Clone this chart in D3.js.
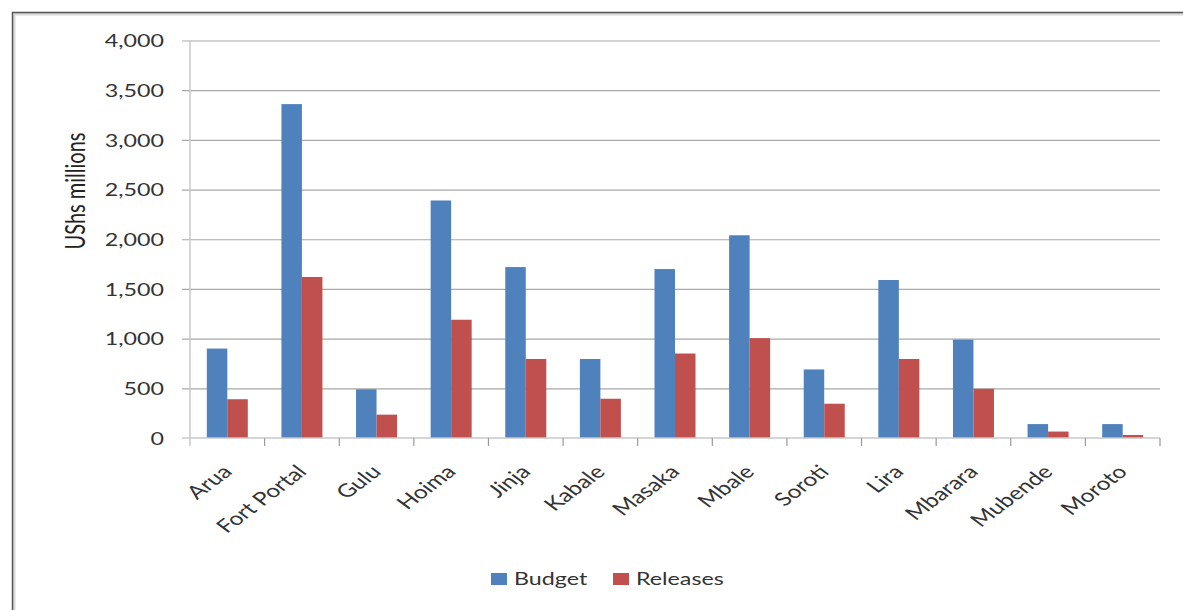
<!DOCTYPE html>
<html><head><meta charset="utf-8">
<script src="https://cdn.jsdelivr.net/npm/d3@7"></script>
<style>body{margin:0;background:#fff} svg{display:block}</style>
</head><body><svg id="c" width="1183" height="610"></svg>
<script>
const categories = ["Arua","Fort Portal","Gulu","Hoima","Jinja","Kabale","Masaka","Mbale","Soroti","Lira","Mbarara","Mubende","Moroto"];
const seriesNames = ["Budget","Releases"];
const budget = [900,3360,490,2390,1720,795,1700,2040,690,1590,990,140,140];
const releases = [390,1620,235,1190,795,395,850,1005,345,795,495,65,30];
const yTicks = [0,500,1000,1500,2000,2500,3000,3500,4000];
const yTitle = "UShs millions";
const colors = {Budget:"#4F81BD", Releases:"#C0504D"};

const SX = 1.33; // horizontal stretch of the reference
const FONT = "Lato, 'DejaVu Sans', sans-serif";
const svg = d3.select("#c");
const L = 190, R = 1160, T = 40.5, B = 438;

// frame
svg.append("path").attr("d","M12.5,610 V12.5 H1183").attr("fill","none")
  .attr("stroke","#d8d8d8").attr("stroke-width",3).attr("transform","translate(1.5,1.5)");
svg.append("path").attr("d","M12.5,610 V12.5 H1183").attr("fill","none")
  .attr("stroke","#555").attr("stroke-width",1.5);

const x = d3.scaleBand().domain(categories).range([L,R]).padding(0);
const x1 = d3.scaleBand().domain(seriesNames).range([0,x.bandwidth()]).paddingInner(0).paddingOuter(0.82);
const y = d3.scaleLinear().domain([0,4000]).range([B,T]);

// gridlines + y axis
const ya = svg.append("g").attr("transform",`translate(${L},0)`)
  .call(d3.axisLeft(y).tickValues(yTicks).tickSizeInner(-(R-L)).tickSizeOuter(0).tickFormat(d3.format(",")));
ya.select(".domain").remove();
ya.selectAll(".tick line").attr("x1",-8).attr("stroke",(d)=> d===0 ? "none" : "#a8a8a8").attr("stroke-width",1.2);
ya.selectAll(".tick text").each(function(){
  const t = d3.select(this);
  t.attr("x",null).attr("dy",null)
   .attr("transform",`translate(-26,0) scale(${SX},1)`)
   .attr("dy","0.35em").attr("text-anchor","end")
   .style("font-family",FONT).style("font-size","17.5px").attr("fill","#333");
});
ya.attr("font-family",null).attr("font-size",null);

// bars
const data = categories.map((c,i)=>({c, vals:[{k:"Budget",v:budget[i]},{k:"Releases",v:releases[i]}]}));
const g = svg.append("g");
g.selectAll("g").data(data).join("g").attr("transform",d=>`translate(${x(d.c)},0)`)
 .selectAll("rect").data(d=>d.vals).join("rect")
 .attr("x",d=>x1(d.k)).attr("width",x1.bandwidth())
 .attr("y",d=>y(d.v)).attr("height",d=>B-y(d.v))
 .attr("fill",d=>colors[d.k]);

// axis lines
svg.append("line").attr("x1",L).attr("x2",L).attr("y1",T).attr("y2",B+8).attr("stroke","#c8c8c8").attr("stroke-width",1.5);
svg.append("line").attr("x1",L-8).attr("x2",R).attr("y1",B).attr("y2",B).attr("stroke","#c8c8c8").attr("stroke-width",1.5);
// x ticks at category boundaries
const bounds = categories.map(c=>x(c)).concat([x.range()[1]]);
svg.append("g").selectAll("line").data(bounds.slice(1)).join("line")
  .attr("x1",d=>d).attr("x2",d=>d).attr("y1",B).attr("y2",B+8).attr("stroke","#999").attr("stroke-width",1.2);

// x labels
svg.append("g").selectAll("text").data(categories).join("text")
  .attr("transform",d=>`translate(${x(d)+x.bandwidth()/2+6},${B+35}) scale(${SX},1) rotate(-45)`)
  .attr("text-anchor","end").style("font-family",FONT).style("font-size","18.5px").attr("fill","#333")
  .text(d=>d);

// y title
svg.append("text").attr("transform",`translate(85,191) scale(${SX},1) rotate(-90)`)
  .attr("text-anchor","middle").style("font-family",FONT).style("font-size","20px").attr("fill","#222")
  .text(yTitle);

// legend
const legX = [491, 613];
const lg = svg.append("g");
seriesNames.forEach((s,i)=>{
  lg.append("rect").attr("x",legX[i]).attr("y",573).attr("width",16).attr("height",12).attr("fill",colors[s]);
  lg.append("text").attr("transform",`translate(${legX[i]+23},585) scale(${SX},1)`)
    .style("font-family",FONT).style("font-size","17.5px").attr("fill","#333").text(s);
});
</script></body></html>
